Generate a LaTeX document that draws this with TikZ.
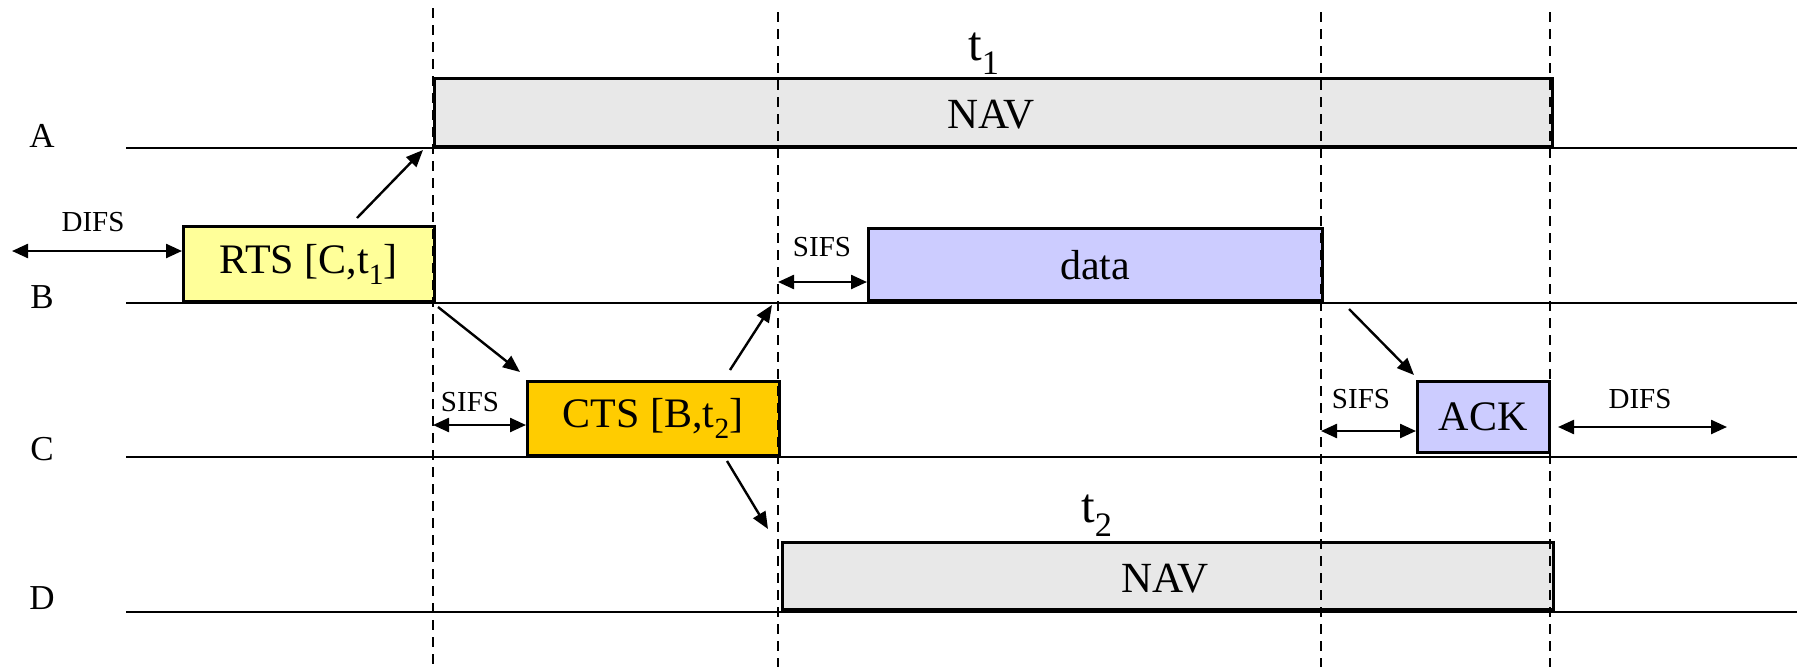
\documentclass[tikz,border=0pt]{standalone}
\usepackage{fontspec}
\setmainfont{Liberation Serif}
\usetikzlibrary{arrows.meta}
\definecolor{navgray}{HTML}{E8E8E8}
\definecolor{rtsyellow}{HTML}{FFFF99}
\definecolor{ctsgold}{HTML}{FFCC00}
\definecolor{lav}{HTML}{CCCCFF}
\tikzset{
  timeline/.style={line width=2.8pt},
  vdash/.style={line width=2.2pt, dash pattern=on 10pt off 7pt},
  frame/.style={draw, line width=2.6pt, inner sep=0pt, anchor=south west,
    font=\fontsize{42}{48}\selectfont},
  msg/.style={line width=2.4pt, -{Triangle[length=17pt,width=14pt]}},
  span/.style={line width=2.4pt, {Triangle[length=16pt,width=14pt]}-{Triangle[length=16pt,width=14pt]}},
  rowlabel/.style={font=\fontsize{35}{40}\selectfont},
  small/.style={font=\fontsize{29}{34}\selectfont},
  tlabel/.style={font=\fontsize{49}{54}\selectfont}
}
\begin{document}
\begin{tikzpicture}[x=1pt,y=-1pt]
\useasboundingbox[fill=white] (0,0) rectangle (1800,667);
% timelines
\coordinate (As) at (126,148); \coordinate (Ae) at (1797,148);
\coordinate (Bs) at (126,303); \coordinate (Be) at (1797,303);
\coordinate (Cs) at (126,457); \coordinate (Ce) at (1797,457);
\coordinate (Ds) at (126,612); \coordinate (De) at (1797,612);
% boxes
\node[frame, fill=navgray, minimum width=1118pt, minimum height=68pt] (navA) at (433,148) {};
\node at (991,115) [font=\fontsize{43}{48}\selectfont] (navAt) {NAV};
\node[tlabel] (t1) at (984,54) {t\textsubscript{1}};
\node[frame, fill=rtsyellow, minimum width=251pt, minimum height=75pt] (rts) at (182,303) {RTS [C,t\textsubscript{1}]};
\node[frame, fill=lav, minimum width=454pt, minimum height=72pt] (data) at (867,302) {data};
\node[frame, fill=ctsgold, minimum width=252pt, minimum height=74pt] (cts) at (526,457) {CTS [B,t\textsubscript{2}]};
\node[frame, fill=lav, minimum width=132pt, minimum height=71pt] (ack) at (1416,454) {ACK};
\node[frame, fill=navgray, minimum width=771pt, minimum height=67pt] (navD) at (781,611) {};
\node at (1165,579) [font=\fontsize{43}{48}\selectfont] (navDt) {NAV};
\node[tlabel] (t2) at (1097,516) {t\textsubscript{2}};
% timeline lines drawn on top
\draw[timeline] (As) -- (Ae);
\draw[timeline] (Bs) -- (Be);
\draw[timeline] (Cs) -- (Ce);
\draw[timeline] (Ds) -- (De);
% dashed verticals
\coordinate (v1t) at (433,8);  \coordinate (v1b) at (433,667);
\coordinate (v2t) at (778,12); \coordinate (v2b) at (778,667);
\coordinate (v3t) at (1321,12); \coordinate (v3b) at (1321,667);
\coordinate (v4t) at (1550,12); \coordinate (v4b) at (1550,667);
\draw[vdash] (v1t) -- (v1b);
\draw[vdash] (v2t) -- (v2b);
\draw[vdash] (v3t) -- (v3b);
\draw[vdash] (v4t) -- (v4b);
% row labels
\node[rowlabel] (lA) at (42,136) {A};
\node[rowlabel] (lB) at (42,297) {B};
\node[rowlabel] (lC) at (42,449) {C};
\node[rowlabel] (lD) at (42,598) {D};
% message arrows
\coordinate (m1s) at (357,218); \coordinate (m1e) at (423,150);
\draw[msg] (m1s) -- (m1e);
\coordinate (m2s) at (438,307); \coordinate (m2e) at (520,372);
\draw[msg] (m2s) -- (m2e);
\coordinate (m3s) at (730,370); \coordinate (m3e) at (772,305);
\draw[msg] (m3s) -- (m3e);
\coordinate (m4s) at (727,461); \coordinate (m4e) at (768,529);
\draw[msg] (m4s) -- (m4e);
\coordinate (m5s) at (1349,309); \coordinate (m5e) at (1414,375);
\draw[msg] (m5s) -- (m5e);
% spans
\coordinate (d1s) at (12,251);
\draw[span] (d1s) -- (rts.west |- d1s);
\node[small] (difs1) at (93,222) {DIFS};
\coordinate (s1s) at (433,425);
\draw[span] (s1s) -- (cts.west |- s1s);
\node[small] (sifs1) at (470,402) {SIFS};
\coordinate (s2s) at (778,282);
\draw[span] (s2s) -- (data.west |- s2s);
\node[small] (sifs2) at (822,247) {SIFS};
\coordinate (s3s) at (1321,431);
\draw[span] (s3s) -- (ack.west |- s3s);
\node[small] (sifs3) at (1361,399) {SIFS};
\coordinate (d2s) at (1558,427); \coordinate (d2e) at (1727,427);
\draw[span] (d2s) -- (d2e);
\node[small] (difs2) at (1640,399) {DIFS};
\end{tikzpicture}
\end{document}
